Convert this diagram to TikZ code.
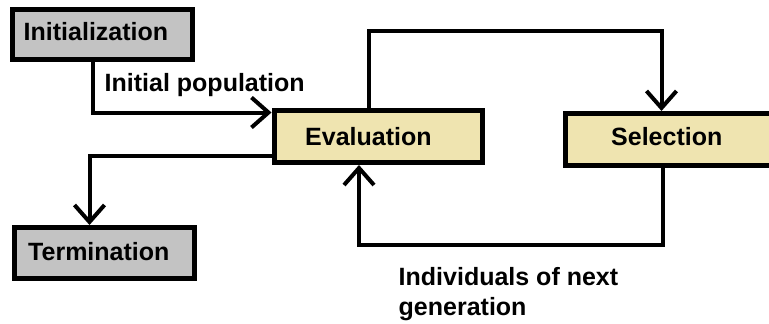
\documentclass[tikz,border=0pt]{standalone}
\usepackage{fontspec}
\setmainfont{Liberation Sans}
\usetikzlibrary{arrows.meta}
\definecolor{boxgray}{RGB}{195,195,195}
\definecolor{boxtan}{RGB}{239,228,176}
\tikzset{
  box/.style={draw=black, line width=5pt, rectangle, inner sep=0pt},
  graybox/.style={box, fill=boxgray},
  tanbox/.style={box, fill=boxtan},
  txt/.style={anchor=base west, inner sep=0pt, font=\bfseries\fontsize{25}{30}\selectfont},
  conn/.style={draw=black, line width=4pt, line join=miter,
    -{Straight Barb[length=17pt,width=30pt]}}
}
\begin{document}
\begin{tikzpicture}[x=1pt, y=-1pt]
  \clip (0,0) rectangle (769,324);
  \fill[white] (0,0) rectangle (769,324);

  % boxes (the selection box runs on past the right edge)
  \node[graybox, minimum width=179.5pt, minimum height=50pt] (init) at (102.25,34.5) {};
  \node[graybox, minimum width=179.5pt, minimum height=51pt] (term) at (104.25,253) {};
  \node[tanbox, minimum width=208.5pt, minimum height=52pt] (eval) at (378.25,136.5) {};
  \node[tanbox, minimum width=230pt, minimum height=52pt] (sel) at (680.5,139.5) {};

  % box labels
  \node[txt] (initlbl) at (23.5,40) {Initialization};
  \node[txt] (termlbl) at (28,260) {Termination};
  \node[txt] (evallbl) at (305,145) {Evaluation};
  \node[txt] (sellbl) at (611,145) {Selection};

  % connector labels
  \node[txt] (poplbl) at (104.5,91) {Initial population};
  \node[txt] (genlbl1) at (398.5,285) {Individuals of next};
  \node[txt] (genlbl2) at (398.5,315) {generation};

  % bends of the connectors
  \coordinate (c1) at (92.5,112.5);
  \coordinate (t1) at (369,30.5);
  \coordinate (t2) at (661.5,30.5);
  \coordinate (c2) at (89.5,155.5);
  \coordinate (c3) at (662.5,245);
  \coordinate (c4) at (359,245);

  % connectors
  \draw[conn] (init.south -| c1) -- (c1) -- (eval.west |- c1);
  \draw[conn] (eval.north -| t1) -- (t1) -- (t2) -- (sel.north -| t2);
  \draw[conn] (eval.west |- c2) -- (c2) -- (term.north -| c2);
  \draw[conn] (sel.south -| c3) -- (c3) -- (c4) -- (eval.south -| c4);
\end{tikzpicture}
\end{document}
